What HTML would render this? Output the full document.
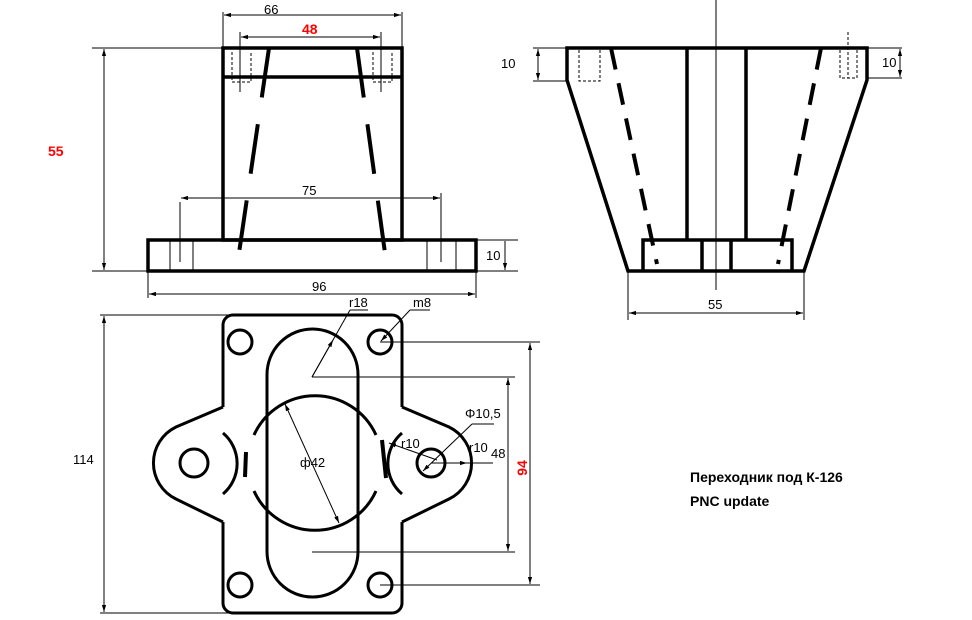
<!DOCTYPE html>
<html><head><meta charset="utf-8"><style>
html,body{margin:0;padding:0;background:#fff;width:972px;height:620px;overflow:hidden}
svg{display:block}
text{font-family:"Liberation Sans","DejaVu Sans",sans-serif}
</style></head><body>
<svg width="972" height="620" viewBox="0 0 972 620" xmlns="http://www.w3.org/2000/svg">
<defs>
<marker id="a" viewBox="0 0 10 10" refX="10" refY="5" markerWidth="7" markerHeight="7" orient="auto-start-reverse"><path d="M0,2 L10,5 L0,8 z" fill="#000"/></marker>
</defs>
<g fill="none" stroke="#000">
<g stroke-width="3.5">
<rect x="223" y="48" width="179" height="192"/>
<line x1="223" y1="77" x2="402" y2="77"/>
<rect x="148" y="240" width="328" height="31"/>
</g>
<g stroke-width="1">
<line x1="170" y1="240" x2="170" y2="271"/><line x1="193" y1="240" x2="193" y2="271"/>
<line x1="427" y1="240" x2="427" y2="271"/><line x1="456" y1="240" x2="456" y2="271"/>
</g>
<g stroke-width="1" stroke-dasharray="3 2">
<path d="M232,52 V82 H251 V52"/><path d="M373,52 V82 H392 V52"/>
</g>
<g stroke-width="4" stroke-dasharray="50 27">
<line x1="269" y1="48" x2="239" y2="253"/>
<line x1="357" y1="48" x2="385" y2="253"/>
</g>
<g stroke-width="1">
<line x1="223" y1="12" x2="223" y2="48"/><line x1="402" y1="12" x2="402" y2="48"/>
<line x1="224" y1="15" x2="401" y2="15" marker-start="url(#a)" marker-end="url(#a)"/>
<line x1="240" y1="32" x2="240" y2="92"/><line x1="381" y1="32" x2="381" y2="92"/>
<line x1="241" y1="37" x2="380" y2="37" marker-start="url(#a)" marker-end="url(#a)"/>
<line x1="180" y1="202" x2="180" y2="262"/><line x1="441" y1="193" x2="441" y2="262"/>
<line x1="181" y1="198" x2="440" y2="198" marker-start="url(#a)" marker-end="url(#a)"/>
<line x1="148" y1="271" x2="148" y2="298"/><line x1="476" y1="271" x2="476" y2="298"/>
<line x1="149" y1="294" x2="475" y2="294" marker-start="url(#a)" marker-end="url(#a)"/>
<line x1="92" y1="48" x2="223" y2="48"/><line x1="92" y1="271" x2="148" y2="271"/>
<line x1="104" y1="49" x2="104" y2="270" marker-start="url(#a)" marker-end="url(#a)"/>
<line x1="476" y1="240" x2="518" y2="240"/><line x1="476" y1="271" x2="518" y2="271"/>
<line x1="505" y1="241" x2="505" y2="270" marker-end="url(#a)"/>
</g>
<g stroke-width="3.5">
<path d="M567,48 H867 V80 L804,271 H628 L567,80 Z"/>
<line x1="687" y1="48" x2="687" y2="240"/><line x1="746" y1="48" x2="746" y2="240"/>
<path d="M643,271 V240 H792 V271"/>
<line x1="702" y1="240" x2="702" y2="271"/><line x1="731" y1="240" x2="731" y2="271"/>
</g>
<g stroke-width="1" stroke-dasharray="3 2">
<path d="M579,50 V81 H600 V50"/><path d="M840,50 V78 H857 V50"/>
<line x1="848" y1="32" x2="848" y2="78"/>
</g>
<g stroke-width="4" stroke-dasharray="22 14">
<line x1="611" y1="48" x2="657" y2="264"/>
<line x1="821" y1="48" x2="778" y2="264"/>
</g>
<g stroke-width="1">
<line x1="716" y1="0" x2="716" y2="290"/>
<line x1="533" y1="48" x2="567" y2="48"/><line x1="533" y1="81" x2="567" y2="81"/>
<line x1="538" y1="49" x2="538" y2="80" marker-start="url(#a)" marker-end="url(#a)"/>
<line x1="867" y1="48" x2="902" y2="48"/><line x1="867" y1="78" x2="902" y2="78"/>
<line x1="900" y1="49" x2="900" y2="77" marker-start="url(#a)" marker-end="url(#a)"/>
<line x1="628" y1="271" x2="628" y2="320"/><line x1="804" y1="271" x2="804" y2="320"/>
<line x1="629" y1="313" x2="803" y2="313" marker-start="url(#a)" marker-end="url(#a)"/>
</g>
<g stroke-width="3">
<path d="M233,315 H392 A10,10 0 0 1 402,325 V407 M402,522 V603 A10,10 0 0 1 392,613 H233 A10,10 0 0 1 223,603 V522 M223,407 V325 A10,10 0 0 1 233,315"/>
<path d="M223,407 L176,427 A40,40 0 0 0 176,499 L223,522"/>
<path d="M402,407 L449,427 A40,40 0 0 1 449,499 L402,522"/>
<path d="M223,433 A40,40 0 0 1 223,494"/>
<path d="M402,433 A40,40 0 0 0 402,494"/>
<rect x="267" y="329" width="91" height="268" rx="45.5" ry="45.5"/>
<path d="M254,435 A67,67 0 0 1 376,435"/>
<path d="M376,491 A67,67 0 0 1 254,491"/>
<line x1="246" y1="452" x2="245" y2="477" stroke-width="4"/>
<line x1="382" y1="440" x2="386" y2="478" stroke-width="4"/>
<circle cx="240" cy="342" r="12"/><circle cx="380" cy="342" r="12"/>
<circle cx="240" cy="585" r="12"/><circle cx="380" cy="585" r="12"/>
<circle cx="194" cy="463" r="14"/><circle cx="431" cy="463" r="14"/>
</g>
<g stroke-width="1">
<line x1="100" y1="315" x2="233" y2="315"/><line x1="100" y1="613" x2="233" y2="613"/>
<line x1="104" y1="316" x2="104" y2="612" marker-start="url(#a)" marker-end="url(#a)"/>
<line x1="380" y1="342" x2="540" y2="342"/><line x1="380" y1="585" x2="540" y2="585"/>
<line x1="530" y1="343" x2="530" y2="584" marker-start="url(#a)" marker-end="url(#a)"/>
<line x1="312" y1="377" x2="515" y2="377"/><line x1="312" y1="552" x2="515" y2="552"/>
<line x1="508" y1="378" x2="508" y2="551" marker-start="url(#a)" marker-end="url(#a)"/>
<line x1="312" y1="377" x2="350" y2="310"/><line x1="350" y1="310" x2="368" y2="310"/>
<line x1="312" y1="377" x2="333" y2="340" marker-end="url(#a)"/>
<line x1="410" y1="310" x2="430" y2="310"/><line x1="410" y1="310" x2="381" y2="341" marker-end="url(#a)"/>
<line x1="285" y1="404" x2="339" y2="523" marker-start="url(#a)" marker-end="url(#a)"/>
<line x1="472" y1="424" x2="494" y2="424"/><line x1="472" y1="424" x2="423" y2="471" marker-end="url(#a)"/>
<line x1="437" y1="460" x2="389" y2="443" marker-end="url(#a)"/>
<line x1="431" y1="463" x2="467" y2="463" marker-end="url(#a)"/>
<line x1="467" y1="463" x2="493" y2="463"/>
</g>
</g>
<g font-size="13" fill="#000">
<text x="264" y="14">66</text>
<text x="302" y="195">75</text>
<text x="312" y="291">96</text>
<text x="486" y="260">10</text>
<text x="501" y="68">10</text>
<text x="882" y="67">10</text>
<text x="708" y="309">55</text>
<text x="73" y="464">114</text>
<text x="349" y="307">r18</text>
<text x="413" y="307">m8</text>
<text x="465" y="418">Φ10,5</text>
<text x="401" y="448">r10</text>
<text x="469" y="452">r10</text>
<text x="491" y="458">48</text>
<text x="300" y="467">ф42</text>
</g>
<g font-weight="bold" fill="#f00" font-size="14">
<text x="302" y="34">48</text>
<text x="48" y="156">55</text>
<text transform="translate(527,468) rotate(-90)" text-anchor="middle">94</text>
</g>
<g font-weight="bold" font-size="14" fill="#000">
<text x="690" y="482">Переходник под К-126</text>
<text x="690" y="506">PNC update</text>
</g>
</svg>
</body></html>
